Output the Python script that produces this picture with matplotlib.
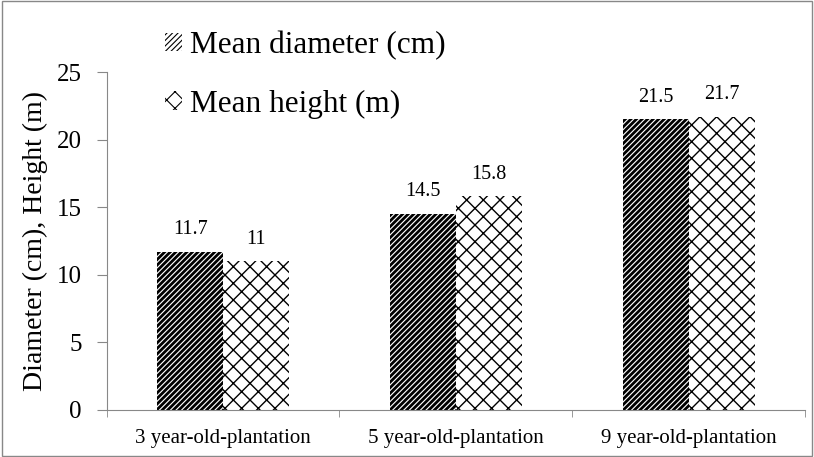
import matplotlib
matplotlib.use("Agg")
import matplotlib.pyplot as plt
import numpy as np
from matplotlib.patches import Patch, Rectangle

categories = ["3 year-old-plantation", "5 year-old-plantation", "9 year-old-plantation"]
mean_diameter = [11.7, 14.5, 21.5]
mean_height = [11.0, 15.8, 21.7]
diam_labels = ["11.7", "14.5", "21.5"]
height_labels = ["11", "15.8", "21.7"]
series_names = ["Mean diameter (cm)", "Mean height (m)"]

plt.rcParams['font.family'] = ['Liberation Serif', 'DejaVu Serif']

fig = plt.figure(figsize=(8.14, 4.57), dpi=100)
ax = fig.add_axes([0.131, 0.103, 0.858, 0.739])

x = np.arange(len(categories))
w = 0.283
plt.rcParams['hatch.linewidth'] = 2.0
b1 = ax.bar(x - w/2, mean_diameter, w, color='white', edgecolor='black', hatch='//////', linewidth=0)
plt.rcParams['hatch.linewidth'] = 1.0
b2 = ax.bar(x + w/2, mean_height, w, color='white', edgecolor='black', hatch='xx', linewidth=0)

for xi, v, t in zip(x - w/2, mean_diameter, diam_labels):
    ax.text(xi, v + 1.65, t, ha='center', va='center', fontsize=14.5)
for xi, v, t in zip(x + w/2, mean_height, height_labels):
    ax.text(xi, v + 1.65, t, ha='center', va='center', fontsize=14.5)

ax.set_xlim(-0.5, 2.5)
ax.set_ylim(0, 25)
ax.set_yticks([0, 5, 10, 15, 20, 25])
ax.set_xticks(x)
ax.set_xticklabels(categories, fontsize=15)
ax.set_xticks([-0.5, 0.5, 1.5, 2.5], minor=True)
ax.tick_params(axis='x', which='major', length=0, pad=14)
ax.tick_params(axis='x', which='minor', length=5, color='#888888', direction='out')
ax.tick_params(axis='y', length=7, color='#888888', direction='out', labelsize=18, pad=11)
for s in ['top', 'right']:
    ax.spines[s].set_visible(False)
for s in ['left', 'bottom']:
    ax.spines[s].set_color('#888888')
ax.set_ylabel("Diameter (cm), Height (m)", fontsize=20, labelpad=6)

plt.rcParams['hatch.linewidth'] = 1.8
h1 = Patch(facecolor='white', edgecolor='black', hatch='//////', linewidth=0)
plt.rcParams['hatch.linewidth'] = 0.8
h2 = Patch(facecolor='white', edgecolor='black', hatch='xx', linewidth=0)
leg = fig.legend([h1, h2], series_names, loc='upper left', bbox_to_anchor=(0.187, 0.96),
                 frameon=False, fontsize=22.5, handlelength=0.55, handleheight=0.55,
                 handletextpad=0.25, labelspacing=0.95, borderaxespad=0)

fig.patches.append(Rectangle((0.002, 0.003), 0.995, 0.994, transform=fig.transFigure,
                             fill=False, edgecolor='#888888', linewidth=1))

fig.savefig("out.png", dpi=100)
